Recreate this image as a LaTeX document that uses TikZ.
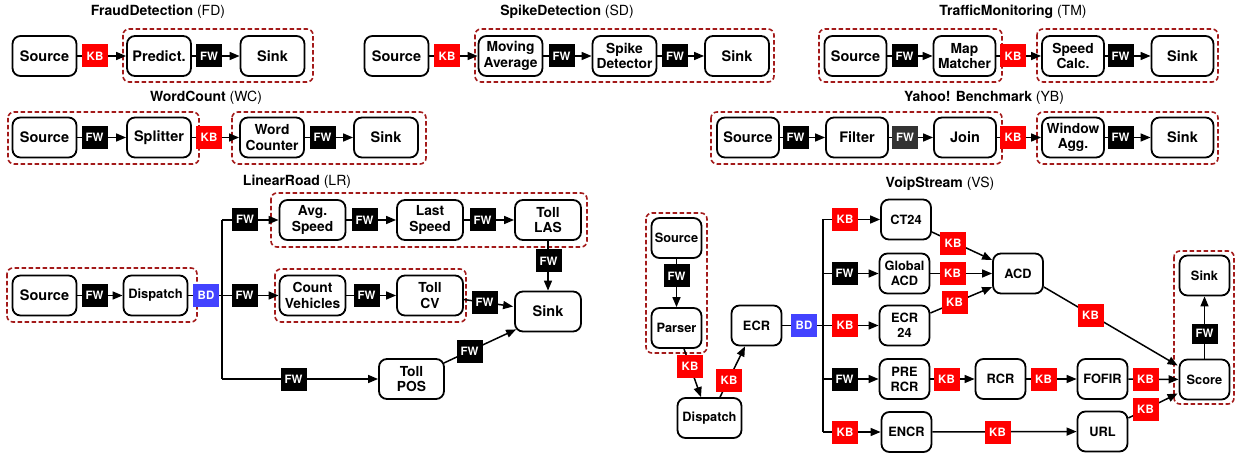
\documentclass[tikz,border=0pt]{standalone}
\usepackage{fontspec}
\setmainfont{TeX Gyre Heros}
\usetikzlibrary{arrows.meta,calc}
\definecolor{grpred}{HTML}{A31A1A}
\definecolor{kbred}{HTML}{FF0000}
\definecolor{bdblue}{HTML}{4343FF}
\definecolor{fwgray}{HTML}{333333}
\begin{document}
\begin{tikzpicture}[x=1pt,y=-1pt,
 op/.style={draw,line width=1.8pt,rounded corners=8pt,minimum width=64pt,minimum height=40pt,align=center,inner sep=1pt,font=\fontsize{14.5}{15.5}\selectfont\bfseries},
 opt/.style={op,font=\fontsize{13.8}{15.5}\selectfont\bfseries},
 vop/.style={op,minimum width=50pt,font=\fontsize{12.8}{15}\selectfont\bfseries},
 dsp/.style={op,font=\fontsize{12.9}{15}\selectfont\bfseries},
 badge/.style={minimum width=26pt,minimum height=23pt,inner sep=0pt,text=white,font=\fontsize{11.5}{12}\selectfont\bfseries},
 kb/.style={badge,fill=kbred},
 fw/.style={badge,fill=black},
 fwg/.style={badge,fill=fwgray},
 bd/.style={badge,fill=bdblue},
 arr/.style={line width=1.5pt,-{Triangle[length=10pt,width=8pt]}},
 ln/.style={line width=1.5pt},
 grp/.style={draw=grpred,line width=1.6pt,dash pattern=on 4.5pt off 2.5pt,rounded corners=6pt},
 ttl/.style={font=\fontsize{14}{16}\selectfont}
]
\useasboundingbox (0,0) rectangle (1247,454);

% ---------------- FraudDetection ----------------
\node[ttl] (tfd) at (158,12) {\textbf{FraudDetection} (FD)};
\draw[grp] (123,29) rectangle (313,82);
\node[op] (fdS) at (44.5,56) {Source};
\node[op] (fdP) at (159,56) {Predict.};
\node[op] (fdK) at (272.5,56) {Sink};
\draw[arr] (fdS) -- (fdP);
\draw[arr] (fdP) -- (fdK);
\node[kb] (fdb1) at (95,56) {KB};
\node[fw] (fdb2) at (209,56) {FW};

% ---------------- SpikeDetection ----------------
\node[ttl] (tsd) at (567,12) {\textbf{SpikeDetection} (SD)};
\draw[grp] (475,29) rectangle (774,82);
\node[op] (sdS) at (396.5,56) {Source};
\node[opt] (sdM) at (510.5,56) {Moving\\Average};
\node[opt] (sdD) at (624.5,56) {Spike\\Detector};
\node[op] (sdK) at (737,56) {Sink};
\draw[arr] (sdS) -- (sdM);
\draw[arr] (sdM) -- (sdD);
\draw[arr] (sdD) -- (sdK);
\node[kb] (sdb1) at (447,56) {KB};
\node[fw] (sdb2) at (561.5,56) {FW};
\node[fw] (sdb3) at (675,56) {FW};

% ---------------- TrafficMonitoring ----------------
\node[ttl] (ttm) at (1013,12) {\textbf{TrafficMonitoring} (TM)};
\draw[grp] (819,29) rectangle (1002,82);
\draw[grp] (1037,29) rectangle (1218,82);
\node[op,minimum width=62pt] (tmS) at (855.5,56) {Source};
\node[opt,minimum width=62pt] (tmM) at (964.5,56) {Map\\Matcher};
\node[opt,minimum width=62pt] (tmC) at (1073,56) {Speed\\Calc.};
\node[op,minimum width=62pt] (tmK) at (1182.5,56) {Sink};
\draw[arr] (tmS) -- (tmM);
\draw[arr] (tmM) -- (tmC);
\draw[arr] (tmC) -- (tmK);
\node[fw] (tmb1) at (904.5,56) {FW};
\node[kb] (tmb2) at (1013,56) {KB};
\node[fw] (tmb3) at (1120.5,56) {FW};

% ---------------- WordCount ----------------
\node[ttl] (twc) at (206,98) {\textbf{WordCount} (WC)};
\draw[grp] (8,112) rectangle (199,164);
\draw[grp] (232,112) rectangle (426,164);
\node[op] (wcS) at (44.5,137.5) {Source};
\node[op] (wcP) at (159,137.5) {Splitter};
\node[opt] (wcW) at (272,137.5) {Word\\Counter};
\node[op] (wcK) at (386,137.5) {Sink};
\draw[arr] (wcS) -- (wcP);
\draw[arr] (wcP) -- (wcW);
\draw[arr] (wcW) -- (wcK);
\node[fw] (wcb1) at (94.5,137.5) {FW};
\node[kb] (wcb2) at (209,137.5) {KB};
\node[fw] (wcb3) at (322.5,137.5) {FW};

% ---------------- Yahoo! Benchmark ----------------
\node[ttl] (tyb) at (984,98) {\textbf{Yahoo! Benchmark} (YB)};
\draw[grp] (711,112) rectangle (1002,164);
\draw[grp] (1037,112) rectangle (1218,164);
\node[op,minimum width=62pt] (ybS) at (748,137.5) {Source};
\node[op,minimum width=62pt] (ybF) at (857,137.5) {Filter};
\node[op,minimum width=62pt] (ybJ) at (965,137.5) {Join};
\node[opt,minimum width=62pt] (ybW) at (1073,137.5) {Window\\Agg.};
\node[op,minimum width=62pt] (ybK) at (1182.5,137.5) {Sink};
\draw[arr] (ybS) -- (ybF);
\draw[arr] (ybF) -- (ybJ);
\draw[arr] (ybJ) -- (ybW);
\draw[arr] (ybW) -- (ybK);
\node[fw] (ybb1) at (795.5,137.5) {FW};
\node[fwg] (ybb2) at (905,137.5) {FW};
\node[kb] (ybb3) at (1013,137.5) {KB};
\node[fw] (ybb4) at (1120.5,137.5) {FW};

% ---------------- LinearRoad ----------------
\node[ttl] (tlr) at (297,182) {\textbf{LinearRoad} (LR)};
\draw[grp] (7,268) rectangle (197,322);
\draw[grp] (271,193) rectangle (587,247);
\draw[grp] (275,269) rectangle (466,322);
\node[op] (lrS) at (44.5,295.5) {Source};
\node[dsp] (lrD) at (155.5,295.5) {Dispatch};
\node[opt,minimum width=66pt] (lrA) at (312.5,220) {Avg.\\Speed};
\node[opt,minimum width=66pt] (lrL) at (430,220) {Last\\Speed};
\node[opt,minimum width=66pt] (lrT) at (548,220) {Toll\\LAS};
\node[op,minimum width=66pt] (lrK) at (548,311.5) {Sink};
\node[opt,minimum width=66pt] (lrC) at (312.5,295.5) {Count\\Vehicles};
\node[opt,minimum width=66pt] (lrV) at (430,295.5) {Toll\\CV};
\node[opt,minimum width=65pt] (lrP) at (411.5,379) {Toll\\POS};
\coordinate (lrtr) at (222,295.5);
\draw[arr] (lrS) -- (lrD);
\draw[ln] (lrD) -- (lrtr);
\draw[ln] (lrtr |- lrA) -- (lrtr |- lrP);
\draw[arr] (lrtr |- lrA) -- (lrA);
\draw[arr] (lrtr) -- (lrC);
\draw[arr] (lrtr |- lrP) -- (lrP);
\draw[arr] (lrA) -- (lrL);
\draw[arr] (lrL) -- (lrT);
\draw[arr] (lrC) -- (lrV);
\draw[arr] (lrT) -- (lrK);
\draw[arr] ($(lrV.east)+(0,4)$) -- ($(lrK.west)+(-1,-5)$);
\draw[arr] ($(lrP.east)+(-1,-16)$) -- ($(lrK.south west)+(2,-3)$);
\node[fw] (lrb1) at (94.5,295.5) {FW};
\node[bd] (lrb2) at (206,295.5) {BD};
\node[fw] (lrb3) at (245,219.5) {FW};
\node[fw] (lrb4) at (244.5,295.5) {FW};
\node[fw] (lrb5) at (293.5,379) {FW};
\node[fw] (lrb6) at (364.5,220) {FW};
\node[fw] (lrb7) at (482.5,220) {FW};
\node[fw] (lrb8) at (548.5,261) {FW};
\node[fw] (lrb9) at (366.5,295.5) {FW};
\node[fw] (lrb10) at (484.5,302.5) {FW};
\node[fw] (lrb11) at (469.5,351) {FW};

% ---------------- VoipStream ----------------
\node[ttl] (tvs) at (940,184) {\textbf{VoipStream} (VS)};
\draw[grp] (646,213) rectangle (707,353);
\draw[grp] (1174,251) rectangle (1234,404);
\node[vop] (vsS) at (676.5,238) {Source};
\node[vop] (vsP) at (676.5,328) {Parser};
\node[op,font=\fontsize{12.8}{15}\selectfont\bfseries] (vsD) at (709.5,418) {Dispatch};
\node[vop] (vsE) at (756.5,325.5) {ECR};
\coordinate (vstr) at (823,325.5);
\node[vop] (vsC) at (906,219.5) {CT24};
\node[vop] (vsG) at (904.5,273.5) {Global\\ACD};
\node[vop] (vsE2) at (904.5,325.5) {ECR\\24};
\node[vop] (vsPR) at (904.5,379) {PRE\\RCR};
\node[vop] (vsN) at (906.5,432) {ENCR};
\node[vop] (vsA) at (1018,273.5) {ACD};
\node[vop] (vsR) at (1000.5,379) {RCR};
\node[vop] (vsF) at (1102.5,379) {FOFIR};
\node[vop] (vsU) at (1102.5,431.5) {URL};
\node[vop] (vsSc) at (1204.5,379.5) {Score};
\node[vop] (vsK) at (1204.5,275.5) {Sink};
\draw[arr] (vsS) -- (vsP);
\draw[arr] ($(vsP.south)+(7.5,0)$) -- ($(vsD.north)+(-8.5,0)$);
\draw[arr] ($(vsD.north)+(10.5,0)$) -- ($(vsE.south)+(-11.5,0)$);
\draw[ln] (vsE) -- (vstr);
\draw[ln] (vstr |- vsC) -- (vstr |- vsN);
\draw[arr] (vstr |- vsC) -- (vsC);
\draw[arr] (vstr |- vsG) -- (vsG);
\draw[arr] (vstr) -- (vsE2);
\draw[arr] (vstr |- vsPR) -- (vsPR);
\draw[arr] (vstr |- vsN) -- (vsN);
\draw[arr] ($(vsC.east)+(0,12.5)$) -- ($(vsA.west)+(0,-13.5)$);
\draw[arr] (vsG) -- (vsA);
\draw[arr] ($(vsE2.east)+(0,-12.5)$) -- ($(vsA.west)+(0,13.5)$);
\draw[arr] ($(vsA.east)+(0,13.5)$) -- ($(vsSc.west)+(-1,-14)$);
\draw[arr] (vsPR) -- (vsR);
\draw[arr] (vsR) -- (vsF);
\draw[arr] (vsF) -- (vsSc);
\draw[arr] (vsN) -- (vsU);
\draw[arr] ($(vsU.east)+(0,-13.5)$) -- ($(vsSc.west)+(-1,14)$);
\draw[arr] (vsSc) -- (vsK);
\node[fw] (vsb1) at (676.5,276) {FW};
\node[kb] (vsb2) at (690,366.5) {KB};
\node[kb] (vsb3) at (729,380) {KB};
\node[bd] (vsb4) at (804,325.5) {BD};
\node[kb] (vsb5) at (845,219.5) {KB};
\node[fw] (vsb6) at (844.5,273.5) {FW};
\node[kb] (vsb7) at (845,325.5) {KB};
\node[fw] (vsb8) at (844.5,379) {FW};
\node[kb] (vsb9) at (845,432) {KB};
\node[kb] (vsb10) at (953,243.5) {KB};
\node[kb] (vsb11) at (952.5,273.5) {KB};
\node[kb] (vsb12) at (954.5,302.5) {KB};
\node[kb] (vsb13) at (1090.5,315) {KB};
\node[fw,minimum height=20pt] (vsb14) at (1204.5,333.5) {FW};
\node[kb] (vsb15) at (946.5,379) {KB};
\node[kb] (vsb16) at (1043.5,379) {KB};
\node[kb] (vsb17) at (1145.5,379) {KB};
\node[kb] (vsb18) at (1145.5,409.5) {KB};
\node[kb] (vsb19) at (997.5,432) {KB};
\end{tikzpicture}
\end{document}
